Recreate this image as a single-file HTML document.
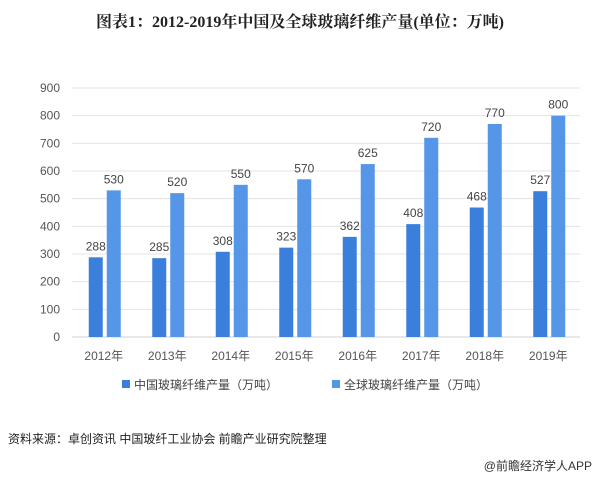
<!DOCTYPE html>
<html><head><meta charset="utf-8"><style>
body{margin:0;background:#fff;width:600px;height:481px;overflow:hidden;font-family:"Liberation Sans","Noto Sans CJK SC",sans-serif}
</style></head><body>
<svg width="600" height="481" xmlns="http://www.w3.org/2000/svg" font-family="Liberation Sans, Noto Sans CJK SC, sans-serif">
<text x="300" y="27" text-anchor="middle" font-size="16" font-weight="bold" fill="#222" font-family="Liberation Serif, Noto Serif CJK SC, serif">图表1：2012-2019年中国及全球玻璃纤维产量(单位：万吨)</text>
<g id="grid"></g><g id="bars"></g>
<g>
<rect x="122" y="380" width="8" height="8" fill="#3b7fdc"/>
<text x="134" y="389" font-size="12" fill="#444">中国玻璃纤维产量（万吨）</text>
<rect x="332" y="380" width="8" height="8" fill="#5596e8"/>
<text x="344" y="389" font-size="12" fill="#444">全球玻璃纤维产量（万吨）</text>
</g>
<text x="8" y="443" font-size="12" fill="#222">资料来源：卓创资讯 中国玻纤工业协会 前瞻产业研究院整理</text>
<text x="592" y="470" text-anchor="end" font-size="12" fill="#333">@前瞻经济学人APP</text>
</svg>
<script>
const categories=["2012年","2013年","2014年","2015年","2016年","2017年","2018年","2019年"];
const china=[288,285,308,323,362,408,468,527];
const world=[530,520,550,570,625,720,770,800];
const yTicks=[0,100,200,300,400,500,600,700,800,900];
const NS="http://www.w3.org/2000/svg";
const y0=337,yMax=900,pxPer=249/900,x0=72,step=63.5;
const y=v=>y0-v*pxPer;
const xc=i=>x0+step*(i+0.5);
function mk(t,a,p,txt){const e=document.createElementNS(NS,t);for(const k in a)e.setAttribute(k,a[k]);if(txt!=null)e.textContent=txt;p.appendChild(e);return e;}
const g=document.getElementById('grid'),b=document.getElementById('bars');
yTicks.forEach(v=>{
 const l=mk('line',{x1:x0,x2:580,y1:y(v),y2:y(v),stroke:v?'#e3e3e3':'#d0d0d0'},g);
 
 
 const t=mk('text',{x:60,y:y(v)+4,'text-anchor':'end','font-size':12,fill:'#555'},g,v);
 
 
});
categories.forEach((c,i)=>{
 const cx=xc(i);
 const r1=mk('rect',{x:cx-15,y:y(china[i]),width:14,height:china[i]*pxPer,fill:'#3b7fdc'},b);
 
 
 const r2=mk('rect',{x:cx+3,y:y(world[i]),width:14,height:world[i]*pxPer,fill:'#5596e8'},b);
 
 
 const t1=mk('text',{x:cx-8,y:y(china[i])-7,'text-anchor':'middle','font-size':12,fill:'#444'},b,china[i]);
 
 
 const t2=mk('text',{x:cx+10,y:y(world[i])-7,'text-anchor':'middle','font-size':12,fill:'#444'},b,world[i]);
 
 
 const xl=mk('text',{x:cx,y:360,'text-anchor':'middle','font-size':12,fill:'#555'},b,c);
 
 
});
</script>
</body></html>
